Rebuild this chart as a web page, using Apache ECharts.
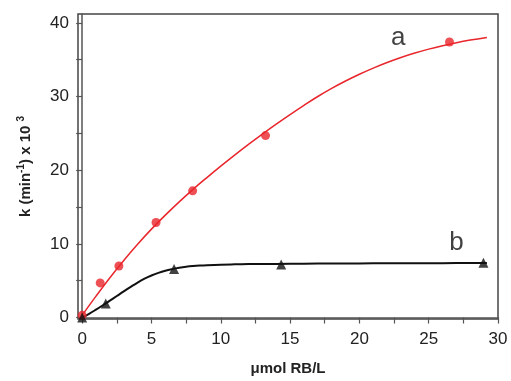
<!DOCTYPE html>
<html>
<head>
<meta charset="utf-8">
<script src="https://cdn.jsdelivr.net/npm/echarts@6/dist/echarts.min.js"></script>
<style>html,body{margin:0;padding:0;background:#fff;}#c{width:511px;height:381px;}</style>
</head>
<body>
<div id="c"></div>
<script>
// measured points, series a (red circles)
const aX = [0, 1.3, 2.65, 5.33, 7.97, 13.23, 26.5];
const aY = [0.3, 4.7, 7.0, 12.9, 17.2, 24.7, 37.4];
// measured points, series b (black triangles)
const bX = [0, 1.7, 6.63, 14.36, 28.95];
const bY = [0, 1.9, 6.6, 7.2, 7.45];
// fitted curve a
const aFitX = [0, 1, 2, 3, 4, 5, 6, 7, 8, 9, 10, 11, 12, 13, 14, 15, 16, 17, 18, 19, 20, 21, 22, 23, 24, 25, 26, 27, 28, 29.2];
const aFitY = [0.3, 2.9, 5.4, 7.75, 9.95, 12.0, 13.9, 15.7, 17.4, 19.0, 20.55, 22.05, 23.5, 24.9, 26.25, 27.55, 28.8, 30.0, 31.1, 32.1, 33.02, 33.86, 34.62, 35.3, 35.9, 36.43, 36.9, 37.31, 37.66, 38.02];
// fitted curve b
const bFitX = [0, 0.5, 1, 1.5, 2, 2.5, 3, 3.5, 4, 4.5, 5, 5.5, 6, 6.5, 7, 7.5, 8, 8.5, 9, 10, 11, 12, 14, 16, 18, 20, 22, 24, 26, 28, 29.2];
const bFitY = [0, 0.5, 1.07, 1.67, 2.29, 2.92, 3.55, 4.16, 4.75, 5.27, 5.7, 6.06, 6.35, 6.57, 6.75, 6.89, 6.99, 7.06, 7.11, 7.18, 7.22, 7.25, 7.28, 7.31, 7.33, 7.35, 7.36, 7.37, 7.38, 7.39, 7.4];
// ticks
const xTicks = [0, 2.5, 5, 7.5, 10, 12.5, 15, 17.5, 20, 22.5, 25, 27.5, 30];
const xLabels = [0, 5, 10, 15, 20, 25, 30];
const yTicks = [0, 5, 10, 15, 20, 25, 30, 35, 40];
const yLabels = [0, 10, 20, 30, 40];
// curve labels
const curveNames = ['a', 'b'];
const curveNamePos = [[22.8, 38.0], [27.0, 10.15]];

const zip = (xs, ys) => xs.map((x, i) => [x, ys[i]]);
const red = '#e8262c';
const font = 'Liberation Sans, Arial, sans-serif';

const chart = echarts.init(document.getElementById('c'), null, {renderer: 'canvas'});
chart.setOption({
  animation: false,
  backgroundColor: '#fff',
  grid: {left: 78, right: 13, top: 14, bottom: 58, show: true, borderColor: '#444', borderWidth: 1.5, backgroundColor: 'transparent'},
  xAxis: {
    type: 'value', min: -0.3, max: 30,
    name: 'μmol RB/L', nameLocation: 'middle', nameGap: 42,
    nameTextStyle: {fontFamily: font, fontSize: 15, fontWeight: 'bold', color: '#222'},
    axisLine: {show: true, lineStyle: {color: '#555', width: 1.5}},
    axisTick: {show: true, inside: false, length: 6, customValues: xTicks, lineStyle: {color: '#555', width: 1.2}},
    axisLabel: {customValues: xLabels, margin: 12, fontFamily: font, fontSize: 17, color: '#222'},
    splitLine: {show: false}
  },
  yAxis: {
    type: 'value', min: -0.2, max: 41.2,
    name: '{t|k (min}{s|-1}{t|) x 10 }{s|3}', nameLocation: 'middle', nameGap: 42, nameRotate: 90,
    nameTextStyle: {
      fontFamily: font, color: '#222',
      rich: {
        t: {fontFamily: font, fontSize: 15, fontWeight: 'bold', color: '#222', lineHeight: 20},
        s: {fontFamily: font, fontSize: 10, fontWeight: 'bold', color: '#222', verticalAlign: 'top', lineHeight: 20}
      }
    },
    axisLine: {show: true, lineStyle: {color: '#555', width: 1.5}},
    axisTick: {show: true, inside: false, length: 6, customValues: yTicks, lineStyle: {color: '#555', width: 1.2}},
    axisLabel: {customValues: yLabels, margin: 9, fontFamily: font, fontSize: 17, color: '#222'},
    splitLine: {show: false}
  },
  series: [
    {type: 'line', data: zip(aFitX, aFitY), smooth: 0.4, symbol: 'none', lineStyle: {color: red, width: 1.5}, z: 2},
    {type: 'line', data: zip(bFitX, bFitY), smooth: 0.4, symbol: 'none', lineStyle: {color: '#111', width: 2}, z: 2},
    {type: 'scatter', data: zip(aX, aY), symbol: 'circle', symbolSize: 9, itemStyle: {color: red}, z: 3},
    {type: 'scatter', data: zip(bX, bY), symbol: 'triangle', symbolSize: 10, itemStyle: {color: '#111'}, z: 3},
    {type: 'scatter', data: curveNamePos.map((p, i) => ({value: p, name: curveNames[i]})), symbolSize: 0, silent: true,
      label: {show: true, position: 'inside', formatter: p => p.name, fontFamily: font, fontSize: 26, color: '#111'}, z: 4}
  ]
});
</script>
</body>
</html>
